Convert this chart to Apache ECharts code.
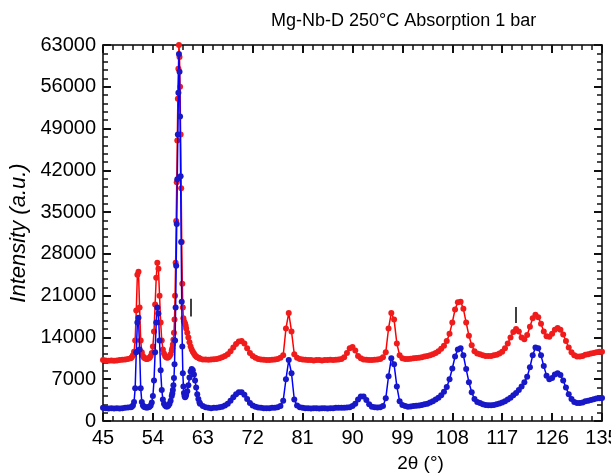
<!DOCTYPE html>
<html>
<head>
<meta charset="utf-8">
<script src="https://cdn.jsdelivr.net/npm/echarts@6/dist/echarts.min.js"></script>
<style>
  html, body { margin: 0; padding: 0; background: #fff; }
  #chart { width: 611px; height: 473px; }
</style>
</head>
<body>
<div id="chart"></div>
<script>
// 2theta positions (deg), shared by both patterns
const twoTheta = [
  45, 45.5, 46, 46.5, 47, 47.5, 48, 48.5, 49, 49.5,
  50.0, 50.2, 50.4, 50.6, 50.8, 51.0, 51.2, 51.4, 51.6, 51.8,
  52.0, 52.2, 52.4, 52.6, 52.8, 53.0, 53.2, 53.4, 53.6, 53.8,
  54.0, 54.2, 54.4, 54.6, 54.8, 55.0, 55.2, 55.4, 55.6, 55.8,
  56.0, 56.2, 56.4, 56.6, 56.8, 57.0, 57.2, 57.4,
  57.5, 57.6, 57.7, 57.8, 57.9, 58.0, 58.1, 58.2, 58.3, 58.4,
  58.5, 58.6, 58.7, 58.8, 58.9, 59.0, 59.1, 59.2, 59.3, 59.4,
  59.5, 59.6, 59.7, 59.8, 59.9, 60.0,
  60.2, 60.4, 60.6, 60.8, 61.0, 61.2, 61.4, 61.6, 61.8, 62.0,
  62.2, 62.4, 62.5, 63, 63.5, 64, 64.5, 65, 65.5, 66,
  66.5, 67, 67.5, 68, 68.5, 69, 69.5, 70, 70.5, 71,
  71.5, 72, 72.5, 73, 73.5, 74, 74.5, 75, 75.5, 76,
  76.5, 77, 77.5, 78, 78.5, 79, 79.5, 80, 80.5, 81,
  81.5, 82, 82.5, 83, 83.5, 84, 84.5, 85, 85.5, 86,
  86.5, 87, 87.5, 88, 88.5, 89, 89.5, 90, 90.5, 91,
  91.5, 92, 92.5, 93, 93.5, 94, 94.5, 95, 95.5, 96,
  96.5, 97, 97.5, 98, 98.5, 99, 99.5, 100, 100.5, 101,
  101.5, 102, 102.5, 103, 103.5, 104, 104.5, 105, 105.5, 106,
  106.5, 107, 107.5, 108, 108.5, 109, 109.5, 110, 110.5, 111,
  111.5, 112, 112.5, 113, 113.5, 114, 114.5, 115, 115.5, 116,
  116.5, 117, 117.5, 118, 118.5, 119, 119.5, 120, 120.5, 121,
  121.5, 122, 122.5, 123, 123.5, 124, 124.5, 125, 125.5, 126,
  126.5, 127, 127.5, 128, 128.5, 129, 129.5, 130, 130.5, 131,
  131.5, 132, 132.5, 133, 133.5, 134, 134.5, 135
];

// upper pattern (red)
const redCounts = [
  10200, 10150, 10100, 10150, 10100, 10150, 10200, 10250, 10300, 10400,
  10500, 10700, 11000, 11600, 13500, 18500, 24500, 25000, 19000, 13500,
  11500, 10900, 10600, 10500, 10400, 10400, 10500, 10600, 10900, 11400,
  12500, 15000, 19500, 24000, 26500, 25500, 21000, 16500, 13500, 12000,
  11300, 10900, 10700, 10600, 10700, 10900, 11200, 11800,
  12200, 12800, 13600, 14800, 17000, 21000, 26500, 33500, 40000, 47000,
  54000, 59000, 63000, 61000, 56000, 48000, 39000, 30000, 23000, 19000,
  17200, 16700, 16500, 16300, 16000, 15500,
  14800, 14000, 13200, 12500, 12000, 11600, 11300, 11000, 10800, 10700,
  10600, 10500, 10450, 10300, 10300, 10250, 10300, 10350, 10400, 10500,
  10700, 10900, 11200, 11700, 12300, 12900, 13300, 13400, 13000, 12200,
  11400, 10900, 10600, 10400, 10300, 10250, 10200, 10200, 10250, 10300,
  10400, 10600, 11000, 15500, 18100, 15000, 11200, 10600, 10400, 10300,
  10250, 10200, 10200, 10150, 10200, 10200, 10150, 10200, 10200, 10250,
  10200, 10250, 10300, 10400, 10700, 11400, 12200, 12400, 11800, 10900,
  10500, 10300, 10250, 10200, 10200, 10250, 10300, 10400, 10700, 11500,
  15500, 18100, 17000, 13000, 11000, 10500, 10400, 10400, 10450, 10500,
  10550, 10600, 10700, 10800, 10900, 11000, 11200, 11400, 11700, 12100,
  12600, 13400, 14600, 16500, 18700, 19900, 20000, 18800, 16500, 14300,
  12700, 11700, 11300, 11200, 11000, 10900, 10900, 10900, 11000, 11100,
  11300, 11600, 12200, 13000, 14000, 14900, 15400, 15000, 14000, 13700,
  14400, 15800, 17200, 17800, 17400, 16300, 15000, 14200, 14100, 14600,
  15300, 15600, 15300, 14500, 13400, 12300, 11500, 11000, 10800, 10800,
  10900, 11100, 11200, 11300, 11400, 11500, 11600, 11600
];

// lower pattern (blue)
const blueCounts = [
  2200, 2150, 2100, 2150, 2100, 2150, 2100, 2150, 2200, 2250,
  2300, 2400, 2600, 3200, 5500, 11500, 16500, 17300, 12000, 5500,
  3200, 2600, 2400, 2300, 2250, 2250, 2300, 2400, 2600, 3100,
  4200, 6800, 11500, 16500, 19000, 18000, 13500, 8500, 5200, 3600,
  2900, 2600, 2450, 2450, 2600, 2900, 3400, 4200,
  4600, 5200, 6000, 7200, 9500, 13500, 19000, 26000, 33000, 40500,
  48000, 55000, 61500, 58500, 51000, 41000, 30000, 20000, 12500, 8000,
  5800, 4700, 4200, 4000, 4100, 4400,
  5000, 6000, 7300, 8300, 8700, 8500, 7800, 6800, 5600, 4500,
  3700, 3100, 2900, 2500, 2300, 2200, 2150, 2200, 2200, 2300,
  2400, 2600, 2900, 3400, 4000, 4500, 4800, 4800, 4400, 3700,
  3000, 2600, 2400, 2250, 2200, 2150, 2150, 2150, 2200, 2200,
  2300, 2500, 3400, 7000, 10200, 8000, 3600, 2600, 2300, 2200,
  2150, 2150, 2100, 2150, 2150, 2100, 2150, 2150, 2100, 2150,
  2150, 2200, 2200, 2200, 2200, 2250, 2300, 2500, 2900, 3600,
  4100, 4100, 3500, 2800, 2400, 2300, 2250, 2300, 2500, 3800,
  7500, 10500, 9500, 5800, 3300, 2700, 2500, 2400, 2450, 2500,
  2550, 2600, 2700, 2800, 2900, 3100, 3300, 3600, 3900, 4300,
  4900, 5700, 7000, 8800, 10800, 12000, 12200, 11000, 8700, 6500,
  4800, 3700, 3200, 3000, 2800, 2700, 2650, 2650, 2700, 2800,
  2950, 3100, 3300, 3600, 3900, 4300, 4700, 5200, 5800, 6500,
  7400, 9000, 11000, 12300, 12200, 11000, 9200, 7600, 7000, 7200,
  7800, 8000, 7700, 6800, 5600, 4500, 3700, 3200, 3000, 3000,
  3100, 3300, 3400, 3500, 3650, 3750, 3800, 3850
];

// small vertical reflection markers above the red pattern
const markerX = [60.9, 119.5];
const markerLow = [17500, 16400];
const markerHigh = [20500, 19100];

const xTicks = { min: 45, max: 135, interval: 9 };
const yTicks = { min: 0, max: 63000, interval: 7000 };

const chart = echarts.init(document.getElementById("chart"));

const font = "Liberation Sans";
const black = "#000";

// frame axis: all four sides carry inward ticks, only bottom/left get labels
function frameAxis(range, position, showLabel, extra) {
  return Object.assign({
    type: "value",
    position,
    min: range.min,
    max: range.max,
    interval: range.interval,
    axisLine: { show: true, onZero: false, lineStyle: { color: black, width: 1.5 } },
    axisTick: { show: true, inside: true, length: 8, lineStyle: { color: "#111", width: 2 } },
    minorTick: { show: true, splitNumber: 5, length: 5, lineStyle: { color: "#111", width: 1.5 } },
    splitLine: { show: false },
    axisLabel: {
      show: showLabel, color: black, fontSize: 20, fontFamily: font, margin: 7,
      formatter: (v) => String(v),
    },
  }, extra || {});
}

const redData = twoTheta.map((x, i) => [x, redCounts[i]]);
const blueData = twoTheta.map((x, i) => [x, blueCounts[i]]);
const markerLines = markerX.map((x, i) => [
  { coord: [x, markerLow[i]] },
  { coord: [x, markerHigh[i]] },
]);

const option = {
  animation: false,
  textStyle: { fontFamily: font },
  title: {
    text: "Mg-Nb-D 250°C Absorption 1 bar",
    left: 266,
    top: 7,
    textStyle: { fontSize: 18, fontWeight: "normal", color: black, fontFamily: font },
  },
  grid: { left: 103, right: 9, top: 45, bottom: 52, outerBoundsMode: "none" },
  xAxis: [
    frameAxis(xTicks, "bottom", true, {
      name: "2θ (°)",
      nameLocation: "middle",
      nameGap: 33,
      nameTextStyle: { color: black, fontSize: 19, fontFamily: font, padding: [0, 0, 0, 136] },
    }),
    frameAxis(xTicks, "top", false),
  ],
  yAxis: [
    frameAxis(yTicks, "left", true, {
      name: "Intensity (a.u.)",
      nameLocation: "middle",
      nameGap: 49,
      nameTextStyle: { color: black, fontSize: 22, fontStyle: "italic", fontFamily: font },
    }),
    frameAxis(yTicks, "right", false),
  ],
  series: [
    {
      name: "red",
      type: "line",
      data: redData,
      symbol: "circle",
      symbolSize: 6,
      lineStyle: { color: "#ff0000", width: 1.5 },
      itemStyle: { color: "#f01c1c" },
      z: 2,
      markLine: {
        silent: true,
        symbol: ["none", "none"],
        label: { show: false },
        lineStyle: { color: black, width: 1.5, type: "solid" },
        data: markerLines,
      },
    },
    {
      name: "blue",
      type: "line",
      data: blueData,
      symbol: "circle",
      symbolSize: 6,
      lineStyle: { color: "#0000ff", width: 1.5 },
      itemStyle: { color: "#1818c8" },
      z: 3,
    },
  ],
};

chart.setOption(option);
</script>
</body>
</html>
